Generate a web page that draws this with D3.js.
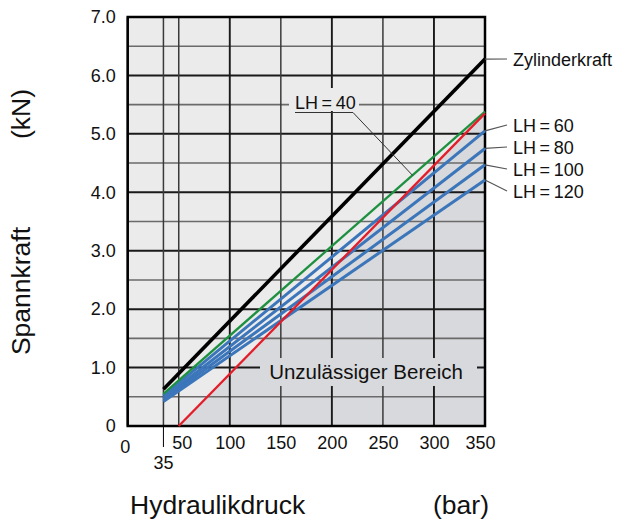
<!DOCTYPE html>
<html lang="de">
<head>
<meta charset="utf-8">
<title>Spannkraft</title>
<script src="https://cdn.jsdelivr.net/npm/d3@7"></script>
<style>
body { margin: 0; background: #fff; }
text { font-family: "Liberation Sans", Arial, Helvetica, sans-serif; fill: #111; }
</style>
</head>
<body>
<script>
// Werte
var xTicks = [0, 50, 100, 150, 200, 250, 300, 350];
var yTicks = [0, 1, 2, 3, 4, 5, 6, 7];
var yHalfTicks = [0.5, 1.5, 2.5, 3.5, 4.5, 5.5, 6.5];
var xExtraGrid = [35];

var pressure = [35, 350];
var seriesNames = ["Zylinderkraft", "LH=40", "LH=60", "LH=80", "LH=100", "LH=120"];
var forceStart = [0.63, 0.55, 0.52, 0.48, 0.45, 0.42];
var forceEnd = [6.28, 5.38, 5.05, 4.75, 4.47, 4.21];
var seriesColors = ["#000000", "#1d9140", "#3b75ba", "#3b75ba", "#3b75ba", "#3b75ba"];

var limitPressure = [50, 350];
var limitForce = [0, 5.35];

var w = 619, h = 522;

var x = d3.scaleLinear().domain([0, 350]).range([127.7, 485]);
var y = d3.scaleLinear().domain([0, 7]).range([426, 17]);

var svg = d3.select("body").append("svg")
    .attr("width", w)
    .attr("height", h);

// Hintergrund
svg.append("rect")
   .attr("x", x(0)).attr("y", y(7))
   .attr("width", x(350) - x(0)).attr("height", y(0) - y(7))
   .attr("fill", "#ebebeb");

// unzulaessiger Bereich (unter der roten Linie)
svg.append("path")
   .attr("d", d3.line()([
       [x(limitPressure[0]), y(limitForce[0])],
       [x(limitPressure[1]), y(limitForce[1])],
       [x(350), y(0)]
   ]) + "Z")
   .attr("fill", "#d8d9dc");

// Gitter
svg.selectAll("line.half")
   .data(yHalfTicks)
   .enter().append("line")
   .attr("class", "half")
   .attr("x1", x(0)).attr("x2", x(350))
   .attr("y1", function(d) { return y(d); })
   .attr("y2", function(d) { return y(d); })
   .attr("stroke", "#6a6a6a")
   .attr("stroke-width", 1.6);

svg.selectAll("line.hgrid")
   .data(yTicks)
   .enter().append("line")
   .attr("class", "hgrid")
   .attr("x1", x(0)).attr("x2", x(350))
   .attr("y1", function(d) { return y(d); })
   .attr("y2", function(d) { return y(d); })
   .attr("stroke", "#1a1a1a")
   .attr("stroke-width", 2);

svg.selectAll("line.vgrid")
   .data(xExtraGrid.concat(xTicks))
   .enter().append("line")
   .attr("class", "vgrid")
   .attr("x1", function(d) { return x(d); })
   .attr("x2", function(d) { return x(d); })
   .attr("y1", y(0)).attr("y2", y(7))
   .attr("stroke", function(d) { return d % 100 == 0 ? "#1a1a1a" : "#3a3a3a"; })
   .attr("stroke-width", function(d) { return d % 100 == 0 ? 1.9 : 1.5; });

// Masken hinter den Beschriftungen
svg.append("rect")
   .attr("x", 289).attr("y", 88).attr("width", 70).attr("height", 23)
   .attr("fill", "#ebebeb");
svg.append("rect")
   .attr("x", 260).attr("y", 358).attr("width", 217).attr("height", 28)
   .attr("fill", "#d8d9dc");

// Rahmen
svg.append("rect")
   .attr("x", x(0)).attr("y", y(7))
   .attr("width", x(350) - x(0)).attr("height", y(0) - y(7))
   .attr("fill", "none")
   .attr("stroke", "#000")
   .attr("stroke-width", 2.5);

// Kennlinien
var lines = seriesNames.map(function(name, i) {
    return { name: name, color: seriesColors[i],
             pts: [[pressure[0], forceStart[i]], [pressure[1], forceEnd[i]]] };
});
var lineGen = d3.line()
    .x(function(d) { return x(d[0]); })
    .y(function(d) { return y(d[1]); });

// blau zuerst, dann gruen, rot, schwarz
var order = [2, 3, 4, 5, 1];
svg.selectAll("path.kl")
   .data(order.map(function(i) { return lines[i]; }))
   .enter().append("path")
   .attr("class", "kl")
   .attr("d", function(d) { return lineGen(d.pts); })
   .attr("fill", "none")
   .attr("stroke", function(d) { return d.color; })
   .attr("stroke-width", function(d) { return d.name == "LH=40" ? 2.3 : 3; });

svg.append("path")
   .attr("d", lineGen([[limitPressure[0], limitForce[0]], [limitPressure[1], limitForce[1]]]))
   .attr("fill", "none")
   .attr("stroke", "#e31e2a")
   .attr("stroke-width", 2.3);

svg.append("path")
   .attr("d", lineGen(lines[0].pts))
   .attr("fill", "none")
   .attr("stroke", "#000")
   .attr("stroke-width", 3.6);

// Achsen
var xAxis = d3.axisBottom(x).tickValues(xTicks).tickSize(0).tickPadding(8);
var gx = svg.append("g")
   .attr("transform", "translate(0," + y(0) + ")")
   .call(xAxis);
gx.select(".domain").remove();
gx.selectAll("text")
  .attr("font-size", "18px")
  .attr("fill", "#111")
  .attr("dy", function(d) { return d == 0 ? "1.05em" : "0.85em"; })
  .attr("dx", function(d) { return d == 0 ? "-3" : (d == 350 ? "-5" : (d == 50 ? "3" : "0")); });

var yAxis = d3.axisLeft(y).tickValues(yTicks).tickSize(0).tickPadding(12)
    .tickFormat(function(d) { return d == 0 ? "0" : d3.format(".1f")(d); });
var gy = svg.append("g")
   .attr("transform", "translate(" + x(0) + ",0)")
   .call(yAxis);
gy.select(".domain").remove();
gy.selectAll("text")
  .attr("font-size", "18px")
  .attr("fill", "#111");

// Markierung 35 bar
svg.append("line")
   .attr("x1", x(35)).attr("x2", x(35))
   .attr("y1", y(0)).attr("y2", y(0) + 21)
   .attr("stroke", "#000").attr("stroke-width", 1);
svg.append("text")
   .attr("x", x(35)).attr("y", y(0) + 43)
   .attr("text-anchor", "middle")
   .attr("font-size", "18px")
   .text("35");

// Beschriftungen rechts
var labelY = [59, 125, 147, 169, 191];
var labelIdx = [0, 2, 3, 4, 5];
labelIdx.forEach(function(i, k) {
    svg.append("line")
       .attr("x1", x(350)).attr("y1", y(forceEnd[i]))
       .attr("x2", 507).attr("y2", labelY[k])
       .attr("stroke", "#555").attr("stroke-width", 1.2);
    svg.append("text")
       .attr("x", 513).attr("y", labelY[k] + 6.5)
       .attr("font-size", "18px")
       .text(seriesNames[i].replace("=", "\u2009=\u2009"));
});

// LH=40 mit Hinweislinie
svg.append("text")
   .attr("x", 295).attr("y", 109)
   .attr("font-size", "18px")
   .text("LH\u2009=\u200940");
svg.append("path")
   .attr("d", d3.line()([[295, 112.5], [353, 112.5], [x(279), y(4.29)]]))
   .attr("fill", "none")
   .attr("stroke", "#333")
   .attr("stroke-width", 1);

svg.append("text")
   .attr("x", 366).attr("y", 379)
   .attr("text-anchor", "middle")
   .attr("font-size", "20.5px")
   .text("Unzulässiger Bereich");

// Achsentitel
svg.append("text")
   .attr("x", 130).attr("y", 514)
   .attr("font-size", "26.5px")
   .text("Hydraulikdruck");
svg.append("text")
   .attr("x", 433).attr("y", 514)
   .attr("font-size", "26.5px")
   .text("(bar)");

svg.append("text")
   .attr("transform", "translate(30,291) rotate(-90)")
   .attr("text-anchor", "middle")
   .attr("font-size", "26.5px")
   .text("Spannkraft");
svg.append("text")
   .attr("transform", "translate(30,114) rotate(-90)")
   .attr("text-anchor", "middle")
   .attr("font-size", "26.5px")
   .text("(kN)");
</script>
</body>
</html>
